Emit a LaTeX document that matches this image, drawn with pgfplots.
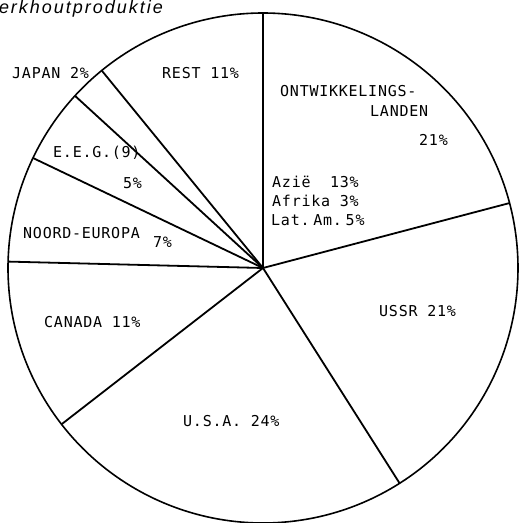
\documentclass[border=0pt]{standalone}
\usepackage{fontspec}
\setmainfont{Liberation Sans}
\newfontfamily\lab[LetterSpace=5]{DejaVu Sans Mono}
\newfontfamily\ttl[LetterSpace=11]{Liberation Sans}
\usepackage{pgfplots}
\pgfplotsset{compat=1.18}
\usepgfplotslibrary{polar}
% shares in percent, clockwise from 12 o'clock
\def\vOnt{20.9}\def\vUssr{20.1}\def\vUsa{23.5}\def\vCan{10.9}
\def\vNe{6.7}\def\vEeg{4.7}\def\vJap{2.3}\def\vRest{10.9}
\pgfmathsetmacro\bA{90}
\pgfmathsetmacro\bB{\bA-3.6*\vOnt}
\pgfmathsetmacro\bC{\bB-3.6*\vUssr}
\pgfmathsetmacro\bD{\bC-3.6*\vUsa}
\pgfmathsetmacro\bE{\bD-3.6*\vCan}
\pgfmathsetmacro\bF{\bE-3.6*\vNe}
\pgfmathsetmacro\bG{\bF-3.6*\vEeg}
\pgfmathsetmacro\bH{\bG-3.6*\vJap}
\begin{document}
\begin{tikzpicture}
\useasboundingbox (0,0) rectangle (521pt,523pt);
\begin{polaraxis}[hide axis, at={(263pt,255pt)}, anchor=center,
  width=510pt, height=510pt, scale only axis,
  ymin=0, ymax=255, clip=false]
\addplot[black, line width=1.6pt, domain=0:360, samples=361, no marks] {255};
\pgfplotsinvokeforeach{\bA,\bB,\bC,\bD,\bE,\bF,\bG,\bH}{
  \addplot[black, line width=1.8pt, no marks] coordinates {(#1,0) (#1,255)};
}
\end{polaraxis}
\begin{scope}[every node/.style={inner sep=0pt, anchor=base west, font=\lab\fontsize{15}{17}\selectfont}]
\node at (162pt,{523pt-79pt}) {REST 11\%};
\node at (12pt,{523pt-79pt}) {JAPAN 2\%};
\node at (280pt,{523pt-97pt}) {ONTWIKKELINGS-};
\node at (370pt,{523pt-117pt}) {LANDEN};
\node at (419pt,{523pt-146pt}) {21\%};
\node at (272pt,{523pt-188pt}) {Azië\ \ 13\%};
\node at (272pt,{523pt-207pt}) {Afrika 3\%};
\node at (271pt,{523pt-226pt}) {Lat.\kern-6pt\ Am.\kern-6pt\ 5\%};
\node at (379pt,{523pt-316.5pt}) {USSR 21\%};
\node at (183pt,{523pt-427pt}) {U.S.A. 24\%};
\node at (44pt,{523pt-328pt}) {CANADA 11\%};
\node at (23pt,{523pt-239pt}) {NOORD-EUROPA};
\node at (153pt,{523pt-248pt}) {7\%};
\node at (53pt,{523pt-158pt}) {E.E.G.(9)};
\node at (123pt,{523pt-189pt}) {5\%};
\end{scope}
\node[inner sep=0pt, anchor=base east, font=\ttl\itshape\fontsize{18}{20}\selectfont] at (163pt,{523pt-13.5pt}) {erkhoutproduktie};
\end{tikzpicture}
\end{document}
